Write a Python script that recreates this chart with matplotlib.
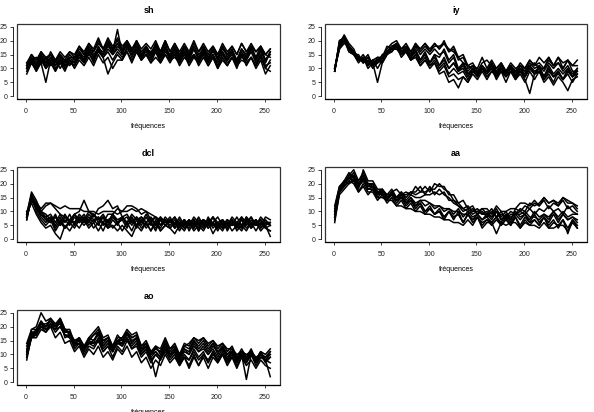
import numpy as np
import matplotlib
matplotlib.use('Agg')
import matplotlib.pyplot as plt
from matplotlib.patches import Rectangle

plt.rcParams['font.family'] = ['Liberation Sans', 'DejaVu Sans']

#### frequencies (sampled every 5 bins)
freq = np.arange(1, 257, 5)

#### log-periodogram curves, one list per curve
sh_curves = [
	[11, 14, 11, 15, 11, 14, 12, 15, 11, 14, 12, 16, 13, 17, 14, 18, 15, 19, 16, 24, 15, 19, 15, 18, 14, 18, 15, 19, 14, 18, 14, 17, 13, 18, 14, 17, 13, 18, 14, 17, 13, 18, 14, 17, 13, 17, 14, 18, 13, 17, 12, 16],
	[9, 13, 10, 14, 10, 13, 11, 14, 10, 13, 11, 15, 12, 16, 13, 17, 14, 8, 12, 15, 13, 18, 14, 17, 13, 17, 14, 16, 13, 17, 13, 16, 12, 16, 13, 15, 12, 16, 12, 15, 11, 15, 12, 14, 11, 15, 12, 14, 11, 14, 10, 9],
	[12, 15, 12, 16, 13, 15, 12, 15, 13, 16, 14, 17, 15, 19, 16, 20, 17, 21, 18, 20, 17, 20, 17, 19, 15, 18, 15, 19, 16, 20, 16, 19, 15, 18, 15, 19, 16, 18, 15, 18, 15, 19, 16, 18, 15, 19, 16, 19, 16, 18, 15, 17],
	[8, 12, 9, 13, 10, 12, 9, 13, 10, 12, 11, 14, 12, 15, 13, 16, 14, 17, 15, 17, 15, 16, 13, 16, 13, 15, 12, 16, 12, 15, 12, 15, 11, 14, 12, 15, 11, 14, 11, 14, 10, 14, 11, 14, 10, 15, 11, 14, 10, 13, 8, 11],
	[10, 14, 11, 15, 12, 16, 13, 15, 12, 14, 14, 18, 15, 17, 16, 19, 17, 20, 17, 19, 16, 19, 16, 19, 16, 18, 15, 18, 15, 19, 14, 17, 14, 18, 15, 17, 14, 17, 13, 17, 14, 16, 13, 16, 12, 16, 13, 17, 14, 18, 13, 16],
	[11, 13, 14, 12, 14, 11, 13, 10, 13, 11, 14, 15, 13, 17, 14, 16, 15, 18, 16, 19, 17, 18, 16, 20, 15, 17, 14, 18, 15, 17, 14, 17, 14, 16, 13, 17, 14, 16, 13, 17, 13, 16, 13, 16, 12, 15, 14, 17, 13, 16, 15, 17],
	[10, 13, 9, 12, 5, 13, 9, 12, 9, 13, 10, 13, 11, 14, 11, 15, 12, 14, 10, 13, 13, 16, 12, 16, 13, 15, 12, 14, 12, 15, 13, 14, 12, 15, 11, 14, 12, 15, 11, 14, 10, 13, 11, 14, 11, 13, 12, 14, 11, 15, 10, 13],
	[11, 15, 13, 16, 14, 15, 13, 16, 14, 16, 15, 18, 16, 19, 17, 21, 17, 20, 17, 21, 18, 20, 17, 20, 17, 19, 17, 20, 16, 20, 16, 19, 16, 19, 16, 20, 16, 19, 16, 18, 15, 18, 15, 18, 15, 19, 16, 18, 16, 18, 15, 14],
	[12, 13, 11, 14, 12, 14, 11, 13, 12, 15, 13, 16, 14, 18, 15, 17, 16, 19, 15, 18, 16, 19, 17, 18, 15, 17, 16, 18, 14, 17, 15, 18, 14, 17, 14, 18, 15, 17, 14, 16, 14, 17, 15, 16, 13, 17, 15, 18, 14, 16, 13, 15],
	[10, 12, 10, 13, 11, 14, 10, 12, 11, 13, 12, 15, 13, 16, 12, 17, 14, 16, 13, 16, 14, 17, 15, 17, 14, 16, 13, 17, 13, 16, 14, 15, 13, 16, 12, 15, 13, 16, 13, 15, 12, 15, 13, 15, 12, 14, 13, 16, 12, 15, 11, 12],
]

iy_curves = [
	[9, 20, 21, 18, 16, 14, 13, 15, 11, 14, 14, 18, 17, 19, 17, 18, 15, 19, 16, 18, 16, 19, 17, 19, 16, 17, 13, 14, 10, 11, 8, 11, 9, 12, 9, 11, 8, 11, 9, 12, 10, 13, 11, 14, 12, 14, 11, 14, 12, 13, 11, 13],
	[10, 19, 22, 19, 17, 13, 15, 12, 13, 14, 12, 16, 18, 19, 15, 17, 14, 17, 13, 16, 12, 15, 11, 14, 10, 12, 9, 10, 7, 10, 8, 11, 9, 11, 7, 10, 8, 11, 7, 10, 8, 11, 9, 10, 7, 10, 7, 9, 6, 10, 7, 9],
	[9, 18, 20, 17, 15, 13, 14, 11, 13, 12, 15, 16, 17, 18, 15, 16, 13, 14, 11, 13, 10, 12, 8, 9, 5, 6, 3, 7, 5, 9, 7, 10, 8, 11, 8, 10, 8, 11, 9, 10, 7, 10, 8, 11, 7, 10, 7, 9, 6, 9, 7, 9],
	[10, 17, 20, 16, 15, 12, 14, 10, 12, 5, 12, 15, 17, 18, 16, 17, 14, 16, 13, 15, 12, 14, 11, 13, 10, 12, 9, 11, 8, 10, 7, 10, 8, 10, 6, 9, 7, 10, 7, 9, 6, 1, 8, 9, 6, 8, 5, 9, 6, 8, 5, 8],
	[9, 19, 21, 18, 16, 14, 13, 14, 11, 13, 14, 17, 19, 20, 17, 19, 16, 19, 17, 19, 17, 19, 17, 20, 16, 18, 14, 15, 11, 12, 9, 12, 13, 11, 10, 12, 9, 11, 8, 11, 9, 11, 12, 10, 10, 13, 11, 14, 10, 13, 11, 11],
	[10, 18, 22, 17, 16, 13, 14, 11, 13, 10, 13, 16, 17, 17, 16, 16, 13, 15, 11, 13, 11, 12, 9, 11, 7, 8, 6, 7, 5, 8, 6, 9, 6, 9, 7, 9, 5, 9, 6, 8, 5, 9, 6, 9, 5, 7, 4, 7, 5, 2, 6, 7],
	[9, 20, 21, 16, 15, 14, 12, 13, 10, 12, 13, 16, 16, 19, 16, 17, 14, 18, 15, 17, 15, 17, 15, 16, 12, 14, 9, 12, 9, 11, 10, 14, 10, 13, 10, 12, 9, 12, 10, 11, 10, 13, 11, 12, 10, 14, 11, 12, 10, 13, 9, 9],
	[10, 17, 19, 18, 16, 14, 12, 14, 11, 13, 12, 15, 16, 18, 14, 16, 14, 16, 13, 15, 12, 15, 14, 17, 13, 15, 10, 12, 8, 9, 8, 10, 9, 11, 9, 11, 9, 10, 7, 10, 7, 11, 8, 10, 7, 11, 8, 10, 8, 10, 7, 10],
	[10, 18, 20, 18, 15, 15, 12, 14, 12, 13, 13, 16, 18, 18, 16, 18, 16, 18, 17, 19, 16, 18, 18, 19, 17, 16, 14, 12, 11, 10, 9, 10, 9, 12, 8, 11, 9, 10, 8, 10, 9, 12, 10, 11, 9, 12, 10, 12, 9, 11, 8, 10],
	[9, 19, 20, 17, 16, 13, 13, 12, 11, 12, 14, 16, 17, 17, 15, 17, 13, 15, 12, 14, 11, 13, 10, 12, 8, 10, 8, 9, 6, 9, 8, 10, 7, 9, 8, 10, 7, 9, 6, 9, 7, 10, 8, 9, 6, 9, 7, 8, 6, 9, 7, 8],
]

dcl_curves = [
	[8, 15, 13, 11, 13, 13, 12, 11, 12, 11, 11, 11, 10, 10, 10, 9, 10, 10, 10, 9, 10, 10, 11, 10, 11, 10, 9, 8, 7, 7, 6, 8, 5, 7, 5, 7, 5, 7, 5, 8, 6, 7, 5, 7, 5, 7, 6, 8, 5, 7, 5, 6],
	[9, 17, 14, 10, 8, 6, 9, 5, 8, 6, 9, 10, 14, 10, 9, 7, 8, 5, 8, 6, 7, 4, 8, 5, 7, 4, 6, 3, 7, 5, 7, 4, 7, 4, 6, 4, 7, 5, 7, 4, 6, 4, 7, 5, 6, 4, 7, 4, 7, 4, 6, 6],
	[7, 16, 12, 9, 7, 8, 5, 8, 4, 7, 6, 9, 7, 10, 8, 11, 12, 14, 11, 12, 8, 9, 6, 8, 5, 8, 5, 6, 4, 7, 4, 6, 5, 7, 3, 6, 4, 7, 4, 6, 4, 7, 3, 6, 4, 7, 4, 6, 5, 7, 4, 3],
	[8, 14, 11, 8, 6, 8, 4, 7, 4, 6, 6, 8, 6, 9, 7, 8, 6, 9, 9, 11, 10, 12, 12, 11, 9, 10, 7, 8, 5, 7, 5, 7, 4, 7, 5, 7, 3, 7, 5, 8, 4, 6, 4, 7, 4, 8, 5, 7, 5, 7, 4, 5],
	[10, 13, 9, 6, 4, 5, 2, 0, 5, 3, 6, 4, 7, 4, 6, 3, 6, 4, 5, 3, 5, 3, 1, 5, 3, 6, 3, 6, 3, 5, 4, 2, 5, 3, 6, 3, 5, 3, 6, 2, 5, 3, 6, 3, 5, 3, 6, 4, 6, 3, 5, 1],
	[7, 15, 13, 10, 9, 7, 8, 6, 9, 6, 9, 7, 9, 6, 9, 7, 9, 6, 9, 6, 8, 6, 8, 5, 8, 6, 8, 5, 8, 6, 8, 5, 8, 5, 7, 5, 8, 5, 7, 6, 8, 5, 7, 5, 8, 5, 8, 6, 7, 5, 8, 7],
	[9, 16, 10, 7, 5, 7, 3, 6, 4, 6, 4, 7, 5, 7, 4, 6, 3, 7, 4, 6, 3, 6, 3, 7, 4, 6, 3, 7, 3, 5, 4, 6, 3, 6, 4, 7, 3, 6, 4, 6, 3, 6, 4, 7, 3, 5, 3, 6, 3, 6, 4, 3],
	[8, 14, 12, 9, 8, 9, 6, 9, 6, 9, 5, 8, 6, 8, 6, 8, 5, 7, 8, 6, 7, 8, 5, 8, 6, 9, 6, 8, 5, 8, 6, 8, 5, 7, 5, 8, 6, 7, 6, 8, 5, 7, 5, 8, 6, 8, 6, 8, 5, 8, 6, 6],
	[9, 15, 11, 10, 12, 13, 11, 9, 8, 7, 9, 6, 8, 7, 9, 6, 8, 6, 9, 7, 8, 6, 9, 7, 8, 6, 7, 5, 8, 6, 7, 4, 6, 5, 7, 4, 6, 4, 8, 5, 6, 4, 7, 5, 6, 4, 8, 5, 7, 4, 6, 5],
	[8, 16, 13, 9, 7, 6, 8, 5, 7, 5, 8, 6, 8, 5, 7, 5, 8, 4, 7, 5, 8, 5, 7, 4, 7, 5, 6, 4, 7, 5, 7, 4, 6, 4, 7, 5, 6, 4, 7, 5, 6, 4, 7, 5, 6, 5, 7, 4, 6, 5, 7, 5],
]

aa_curves = [
	[8, 18, 20, 22, 24, 20, 23, 19, 20, 17, 18, 15, 17, 18, 16, 17, 16, 19, 17, 19, 17, 20, 19, 19, 16, 16, 13, 14, 11, 12, 9, 11, 9, 11, 8, 10, 7, 9, 9, 11, 10, 13, 12, 13, 15, 13, 14, 12, 15, 13, 13, 11],
	[6, 17, 19, 21, 23, 19, 22, 18, 18, 15, 17, 14, 16, 13, 15, 12, 14, 11, 13, 10, 12, 9, 11, 8, 10, 8, 9, 6, 9, 7, 8, 6, 7, 5, 7, 5, 8, 5, 8, 5, 8, 6, 7, 5, 8, 5, 7, 4, 7, 2, 7, 5],
	[11, 19, 20, 23, 25, 21, 24, 20, 20, 17, 17, 15, 16, 14, 15, 13, 14, 12, 13, 10, 11, 9, 10, 7, 10, 8, 9, 6, 9, 7, 9, 7, 8, 6, 8, 6, 9, 6, 9, 7, 9, 6, 9, 6, 8, 6, 9, 6, 9, 7, 8, 7],
	[9, 18, 21, 20, 22, 18, 25, 21, 21, 18, 18, 16, 18, 15, 17, 15, 17, 16, 17, 17, 18, 18, 20, 18, 17, 14, 13, 11, 12, 10, 11, 9, 10, 8, 11, 8, 10, 7, 11, 10, 12, 11, 13, 12, 14, 11, 13, 12, 14, 11, 12, 10],
	[7, 16, 18, 20, 21, 17, 20, 17, 17, 14, 16, 13, 15, 12, 14, 11, 13, 10, 12, 9, 11, 9, 10, 8, 10, 7, 10, 6, 9, 6, 8, 5, 7, 6, 8, 5, 7, 5, 8, 4, 6, 5, 7, 5, 8, 4, 6, 5, 7, 4, 7, 4],
	[10, 17, 20, 22, 23, 20, 22, 19, 19, 16, 18, 15, 17, 14, 16, 13, 15, 12, 14, 14, 13, 12, 12, 11, 11, 10, 10, 9, 9, 10, 10, 11, 11, 9, 12, 10, 10, 11, 11, 13, 13, 12, 14, 12, 15, 13, 14, 13, 15, 14, 13, 12],
	[12, 19, 21, 24, 22, 19, 21, 18, 18, 17, 16, 14, 17, 15, 16, 16, 17, 17, 19, 16, 19, 16, 18, 16, 15, 13, 12, 10, 11, 9, 10, 9, 9, 8, 10, 7, 8, 8, 9, 9, 10, 8, 8, 7, 9, 8, 10, 8, 10, 8, 9, 9],
	[8, 17, 19, 21, 20, 17, 19, 16, 18, 15, 15, 14, 14, 12, 12, 11, 11, 10, 10, 9, 9, 8, 8, 7, 7, 6, 6, 5, 7, 5, 8, 4, 6, 6, 2, 6, 5, 6, 6, 4, 7, 5, 5, 4, 6, 4, 4, 5, 5, 3, 6, 4],
	[10, 18, 21, 22, 21, 19, 22, 18, 19, 16, 17, 15, 16, 14, 16, 13, 15, 13, 14, 12, 13, 11, 12, 10, 11, 9, 11, 8, 10, 8, 9, 7, 9, 7, 10, 7, 9, 7, 10, 8, 9, 7, 10, 8, 9, 7, 10, 7, 9, 7, 8, 6],
	[9, 17, 20, 23, 22, 20, 21, 20, 19, 17, 17, 16, 16, 15, 17, 14, 16, 15, 15, 16, 16, 17, 16, 17, 14, 14, 12, 11, 10, 11, 9, 10, 8, 10, 8, 9, 8, 10, 9, 10, 9, 11, 9, 11, 10, 12, 10, 11, 9, 12, 10, 9],
]

ao_curves = [
	[10, 18, 18, 21, 20, 22, 20, 23, 19, 18, 15, 16, 13, 16, 18, 20, 16, 17, 13, 16, 16, 19, 17, 18, 13, 15, 11, 13, 12, 16, 12, 14, 10, 14, 13, 16, 14, 16, 13, 15, 12, 14, 11, 13, 9, 12, 9, 12, 8, 11, 10, 12],
	[8, 17, 17, 20, 20, 21, 19, 22, 18, 18, 14, 15, 12, 15, 17, 19, 15, 16, 12, 15, 15, 18, 16, 17, 12, 14, 10, 12, 11, 15, 11, 13, 9, 13, 12, 15, 13, 15, 12, 14, 11, 13, 10, 12, 8, 11, 8, 11, 7, 10, 9, 10],
	[12, 16, 16, 19, 18, 20, 16, 18, 14, 15, 11, 13, 9, 12, 10, 13, 9, 11, 8, 12, 10, 13, 9, 11, 7, 9, 5, 8, 6, 10, 7, 9, 6, 9, 6, 10, 6, 9, 5, 9, 7, 10, 6, 9, 5, 9, 6, 8, 5, 8, 6, 5],
	[11, 19, 20, 25, 22, 23, 20, 21, 17, 17, 13, 14, 11, 14, 13, 16, 12, 14, 11, 15, 13, 16, 12, 14, 10, 12, 9, 11, 9, 13, 10, 12, 8, 12, 10, 14, 11, 13, 10, 12, 9, 12, 8, 11, 8, 10, 8, 11, 8, 10, 7, 9],
	[13, 18, 18, 22, 20, 23, 21, 22, 18, 18, 14, 15, 12, 16, 15, 18, 13, 15, 11, 15, 14, 18, 14, 16, 11, 13, 9, 2, 9, 12, 9, 11, 7, 9, 5, 9, 6, 10, 7, 11, 8, 10, 8, 11, 7, 10, 1, 10, 8, 11, 8, 9],
	[9, 17, 18, 20, 18, 21, 20, 22, 16, 17, 12, 14, 10, 13, 12, 15, 11, 13, 9, 13, 11, 15, 12, 13, 9, 11, 7, 10, 8, 12, 9, 11, 7, 10, 8, 12, 9, 11, 7, 10, 8, 11, 7, 10, 6, 9, 7, 10, 7, 9, 8, 2],
	[10, 16, 17, 21, 19, 20, 19, 20, 17, 16, 13, 16, 12, 15, 14, 18, 14, 16, 13, 17, 15, 18, 14, 16, 11, 13, 10, 13, 10, 14, 10, 12, 8, 12, 11, 15, 12, 14, 11, 14, 10, 13, 9, 11, 8, 11, 9, 11, 8, 11, 8, 10],
	[14, 19, 19, 22, 19, 20, 21, 23, 19, 19, 14, 16, 13, 14, 14, 15, 11, 13, 11, 14, 13, 16, 13, 15, 10, 12, 8, 10, 8, 11, 8, 10, 6, 9, 8, 11, 8, 10, 8, 11, 7, 10, 7, 9, 7, 10, 7, 10, 6, 9, 8, 7],
	[11, 17, 19, 21, 21, 22, 20, 22, 19, 17, 15, 15, 13, 15, 17, 18, 15, 16, 13, 15, 16, 18, 16, 17, 13, 14, 11, 12, 11, 14, 12, 13, 10, 13, 14, 16, 15, 16, 14, 15, 13, 14, 12, 12, 10, 11, 10, 11, 9, 10, 9, 11],
	[9, 16, 18, 20, 19, 21, 18, 20, 17, 16, 14, 14, 12, 14, 15, 17, 13, 15, 12, 14, 14, 17, 15, 16, 12, 13, 10, 11, 9, 12, 10, 12, 8, 11, 10, 13, 11, 12, 10, 13, 11, 12, 10, 11, 9, 10, 9, 10, 8, 10, 9, 11],
]

phonemes = ['sh', 'iy', 'dcl', 'aa', 'ao']
curves = [sh_curves, iy_curves, dcl_curves, aa_curves, ao_curves]
x_ticks = [0, 50, 100, 150, 200, 250]
y_ticks = [0, 5, 10, 15, 20, 25]

#### panel boxes in figure fractions (left, bottom, width, height)
W, H = 594, 412
boxes = [
	(17/W, 1-99/H, 263/W, 75/H),
	(325/W, 1-99/H, 262/W, 75/H),
	(17/W, 1-242/H, 263/W, 75/H),
	(325/W, 1-242/H, 262/W, 75/H),
	(17/W, 1-385/H, 263/W, 75/H),
]

fig = plt.figure(figsize=(W/100, H/100), dpi=100)

for k in range(5):
	ax = fig.add_axes(boxes[k])
	for c in curves[k]:
		ax.plot(freq, c, color='black', linewidth=1.1)
	ax.set_xlim(-9.2, 266.2)
	ax.set_ylim(-1, 26)
	ax.set_xticks(x_ticks)
	ax.set_yticks(y_ticks)
	ax.tick_params(direction='out', length=2.5, width=0.6, labelsize=5, colors='#222222')
	ax.tick_params(axis='x', pad=4)
	ax.tick_params(axis='y', pad=1.5)
	for lab in ax.get_yticklabels():
		lab.set_rotation(90)
		lab.set_va('center')
	for s in ['top', 'right']:
		ax.spines[s].set_visible(False)
	ax.spines['left'].set_position(('outward', 3))
	ax.spines['left'].set_bounds(0, 25)
	ax.spines['left'].set_linewidth(0.6)
	ax.spines['bottom'].set_linewidth(0.8)
	ax.add_patch(Rectangle((0, 0), 1, 1, transform=ax.transAxes, fill=False,
		edgecolor='#333333', linewidth=0.9, clip_on=False))
	ax.set_title(phonemes[k], fontsize=6.5, fontweight='bold', pad=8)
	ax.set_xlabel('fréquences', fontsize=5, labelpad=5.5)

plt.savefig('out.png', dpi=100)
